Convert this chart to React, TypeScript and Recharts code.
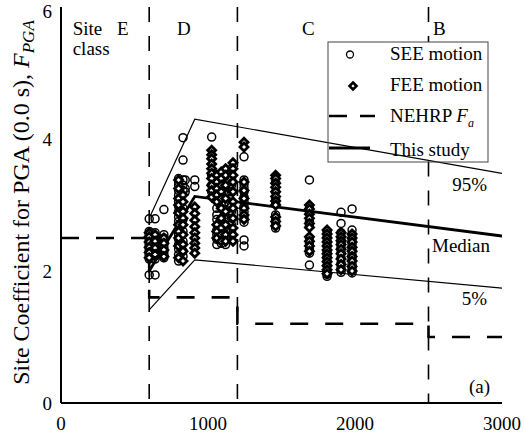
import React from "react";
import { ComposedChart, XAxis, YAxis, Line, Scatter } from "recharts";

// values (x: shear-wave velocity, y: F_PGA)
const SEE_COLUMNS: [number, number[]][] = [
  [600, [2.79, 2.6, 2.55, 2.5, 2.46, 2.42, 2.38, 2.34, 2.3, 2.26, 2.22, 2.18, 1.94]],
  [640, [2.79, 2.58, 2.53, 2.48, 2.43, 2.38, 2.33, 2.28, 2.23, 2.18, 1.94]],
  [700, [2.93, 2.55, 2.5, 2.45, 2.4, 2.35, 2.3, 2.25, 2.2]],
  [800, [3.4, 3.35, 3.3, 3.22, 3.15, 3.05, 2.98, 2.9, 2.82, 2.75, 2.55, 2.48, 2.4, 2.33, 2.25, 2.15]],
  [830, [4.02, 3.68, 3.38, 3.3, 3.22, 2.95, 2.78, 2.6, 2.45, 2.3, 2.22]],
  [845, [3.38, 3.25, 3.2]],
  [910, [3.38, 3.28]],
  [1025, [4.03, 3.45, 3.3, 3.2]],
  [1060, [3.38, 3.3, 3.2, 3.1, 2.95, 2.85, 2.78, 2.62, 2.55, 2.48, 2.4]],
  [1090, [3.42, 3.35, 3.25, 3.15, 3.0, 2.7, 2.6, 2.5, 2.42]],
  [1120, [3.48, 3.36, 3.28, 3.18, 3.05, 2.92, 2.78, 2.62, 2.5, 2.4]],
  [1160, [3.55, 3.4, 3.3, 3.2, 3.0, 2.9, 2.8, 2.7, 2.6, 2.5]],
  [1245, [3.73, 3.38, 3.32, 3.26, 3.2, 3.12, 3.05, 2.98, 2.9, 2.82, 2.74, 2.47, 2.38]],
  [1460, [3.35, 3.2, 3.1, 3.02, 2.85, 2.78, 2.7, 2.65]],
  [1690, [3.38, 2.95, 2.88, 2.75, 2.68, 2.5, 2.42, 2.33, 2.27, 2.09]],
  [1810, [2.6, 2.52, 2.45, 2.38, 2.3, 2.22, 2.15, 2.08, 2.0, 1.95, 1.92]],
  [1905, [2.89, 2.72, 2.58, 2.5, 2.43, 2.36, 2.28, 2.2, 2.12, 2.05, 1.98]],
  [1980, [2.94, 2.62, 2.55, 2.48, 2.4, 2.32, 2.25, 2.18, 2.1, 2.03, 1.97]],
];

const FEE_COLUMNS: [number, number[]][] = [
  [600, [2.58, 2.52, 2.44, 2.36, 2.28, 2.2]],
  [640, [2.55, 2.45, 2.35, 2.25]],
  [700, [2.5, 2.42, 2.32, 2.22]],
  [800, [3.38, 3.25, 3.1, 3.0, 2.88, 2.7, 2.6, 2.5, 2.38, 2.2]],
  [830, [3.15, 3.05, 2.9, 2.8, 2.7, 2.55, 2.4, 2.3, 2.15]],
  [910, [2.97, 2.87, 2.77, 2.67, 2.58, 2.5, 2.42, 2.35, 2.27]],
  [1025, [3.83, 3.76, 3.7, 3.62, 3.55, 3.48, 3.4, 3.3, 3.22, 3.12]],
  [1060, [3.45, 3.35, 3.25, 3.15, 3.05, 2.7, 2.6, 2.5]],
  [1090, [3.5, 3.4, 3.3, 3.2, 3.1, 2.95, 2.8, 2.65, 2.55, 2.45]],
  [1120, [3.55, 3.45, 3.3, 3.1, 2.9, 2.7, 2.55, 2.45]],
  [1170, [3.64, 3.55, 3.45, 3.35, 3.2, 3.05, 2.95, 2.8, 2.65, 2.55, 2.45]],
  [1245, [3.95, 3.88, 3.35, 3.22, 3.1, 2.95, 2.85, 2.78]],
  [1460, [3.45, 3.4, 3.33, 3.27, 3.2, 3.13, 3.06, 3.0, 2.82, 2.75, 2.68]],
  [1690, [3.0, 2.94, 2.86, 2.8, 2.72, 2.66, 2.52, 2.45, 2.38, 2.3]],
  [1810, [2.62, 2.56, 2.5, 2.44, 2.38, 2.32, 2.26, 2.2, 2.14, 2.08, 2.02, 1.96]],
  [1905, [2.58, 2.52, 2.46, 2.4, 2.33, 2.26, 2.18, 2.1, 2.02]],
  [1980, [2.56, 2.5, 2.44, 2.36, 2.3, 2.22, 2.15, 2.07, 2.0]],
];

const UPPER_95 = [{ x: 600, y: 2.8 }, { x: 910, y: 4.3 }, { x: 3000, y: 3.48 }];
const MEDIAN = [{ x: 600, y: 2.0 }, { x: 910, y: 3.13 }, { x: 3000, y: 2.53 }];
const LOWER_5 = [{ x: 600, y: 1.41 }, { x: 910, y: 2.17 }, { x: 3000, y: 1.74 }];

const NEHRP_FA = [
  { x: 0, y: 2.5 }, { x: 600, y: 2.5 }, { x: 600, y: 1.6 }, { x: 1200, y: 1.6 },
  { x: 1200, y: 1.2 }, { x: 2500, y: 1.2 }, { x: 2500, y: 1.0 }, { x: 3000, y: 1.0 },
];

// site class boundaries (the B boundary stops behind the legend box)
const BOUNDARIES = [
  [{ x: 600, y: 6 }, { x: 600, y: 0 }],
  [{ x: 1200, y: 6 }, { x: 1200, y: 0 }],
  [{ x: 2500, y: 6 }, { x: 2500, y: 5.47 }],
  [{ x: 2500, y: 3.66 }, { x: 2500, y: 0 }],
];

const X_LABEL_TICKS = [0, 1000, 2000, 3000];
const X_MINOR_TICKS = [0, 500, 1000, 1500, 2000, 2500, 3000];
const Y_LABEL_TICKS = [0, 2, 4, 6];
const Y_MINOR_TICKS = [0, 0.5, 1, 1.5, 2, 2.5, 3, 3.5, 4, 4.5, 5, 5.5, 6];

const SITE_CLASSES = [
  { label: "E", x: 117 },
  { label: "D", x: 177 },
  { label: "C", x: 302 },
  { label: "B", x: 433 },
];

const FONT = "Liberation Serif, Tinos, Times New Roman, DejaVu Serif, serif";

const seePoints = SEE_COLUMNS.flatMap(([x, ys]) => ys.map((y) => ({ x, y })));
const feePoints = FEE_COLUMNS.flatMap(([x, ys]) => ys.map((y) => ({ x, y })));

const OpenCircle = (props: any) => (
  <circle cx={props.cx} cy={props.cy} r={4} fill="none" stroke="#000" strokeWidth={1.5} />
);

// FEE marker: heavy-outlined diamond, leaves a small white centre
const Diamond = (props: any) => {
  const { cx, cy } = props;
  const s = 4;
  return (
    <polygon
      points={`${cx},${cy - s} ${cx + s},${cy} ${cx},${cy + s} ${cx - s},${cy}`}
      fill="#fff"
      stroke="#000"
      strokeWidth={2.8}
    />
  );
};

const tickStyle = { fontSize: 19, fill: "#000", fontFamily: FONT };

export default function App() {
  return (
    <div style={{ position: "absolute", left: 0, top: 0, width: 524, height: 438, background: "#fff", fontFamily: FONT }}>
      <ComposedChart
        width={524}
        height={438}
        margin={{ top: 7, right: 22, bottom: 5, left: 11 }}
        style={{ fontFamily: FONT }}
      >
        <XAxis
          xAxisId="b"
          type="number"
          dataKey="x"
          domain={[0, 3000]}
          allowDataOverflow
          ticks={X_LABEL_TICKS}
          tickSize={0}
          tickMargin={13.5}
          tickLine={false}
          axisLine={{ stroke: "#000", strokeWidth: 2 }}
          tick={tickStyle}
          height={30}
        />
        <XAxis
          xAxisId="bm"
          type="number"
          dataKey="x"
          domain={[0, 3000]}
          ticks={X_MINOR_TICKS}
          mirror
          tick={false}
          tickSize={5}
          tickLine={{ stroke: "#000", strokeWidth: 1.3 }}
          axisLine={false}
          height={0}
        />
        <XAxis
          xAxisId="t"
          orientation="top"
          type="number"
          dataKey="x"
          domain={[0, 3000]}
          ticks={X_MINOR_TICKS}
          mirror
          tick={false}
          tickSize={5}
          tickLine={{ stroke: "#000", strokeWidth: 1.3 }}
          axisLine={{ stroke: "#000", strokeWidth: 1.8 }}
          height={0}
        />
        <YAxis
          yAxisId="l"
          type="number"
          dataKey="y"
          domain={[0, 6]}
          allowDataOverflow
          ticks={Y_LABEL_TICKS}
          tickSize={0}
          tickMargin={9}
          tickLine={false}
          axisLine={{ stroke: "#000", strokeWidth: 2 }}
          tick={tickStyle}
          width={50}
        />
        <YAxis
          yAxisId="lm"
          type="number"
          dataKey="y"
          domain={[0, 6]}
          ticks={Y_MINOR_TICKS}
          mirror
          tick={false}
          tickSize={5}
          tickLine={{ stroke: "#000", strokeWidth: 1.3 }}
          axisLine={false}
          width={0}
        />
        <YAxis
          yAxisId="r"
          orientation="right"
          type="number"
          dataKey="y"
          domain={[0, 6]}
          ticks={Y_MINOR_TICKS}
          mirror
          tick={false}
          tickSize={5}
          tickLine={{ stroke: "#000", strokeWidth: 1.3 }}
          axisLine={{ stroke: "#000", strokeWidth: 1.8 }}
          width={0}
        />

        {BOUNDARIES.map((seg, i) => (
          <Line
            key={`bnd-${i}`}
            xAxisId="b"
            yAxisId="l"
            data={seg}
            dataKey="y"
            type="linear"
            stroke="#000"
            strokeWidth={1.6}
            strokeDasharray="15 14"
            dot={false}
            isAnimationActive={false}
          />
        ))}

        <Line
          xAxisId="b"
          yAxisId="l"
          data={NEHRP_FA}
          dataKey="y"
          type="linear"
          stroke="#000"
          strokeWidth={2.6}
          strokeDasharray="18 17"
          dot={false}
          isAnimationActive={false}
        />

        <Scatter xAxisId="b" yAxisId="l" data={seePoints} dataKey="y" shape={OpenCircle} isAnimationActive={false} />
        <Scatter xAxisId="b" yAxisId="l" data={feePoints} dataKey="y" shape={Diamond} isAnimationActive={false} />

        <Line xAxisId="b" yAxisId="l" data={UPPER_95} dataKey="y" type="linear" stroke="#000" strokeWidth={1.2} dot={false} isAnimationActive={false} />
        <Line xAxisId="b" yAxisId="l" data={LOWER_5} dataKey="y" type="linear" stroke="#000" strokeWidth={1.2} dot={false} isAnimationActive={false} />
        <Line xAxisId="b" yAxisId="l" data={MEDIAN} dataKey="y" type="linear" stroke="#000" strokeWidth={2.8} dot={false} isAnimationActive={false} />
      </ComposedChart>

      <svg
        width={524}
        height={438}
        fontFamily={FONT}
        style={{ position: "absolute", left: 0, top: 0, pointerEvents: "none" }}
      >
        <text
          x={28.5}
          y={202.5}
          transform="rotate(-90 28.5 202.5)"
          textAnchor="middle"
          fontSize={24}
          fill="#000"
          fontFamily={FONT}
        >
          Site Coefficient for PGA (0.0 s),{" "}
          <tspan fontStyle="italic">F</tspan>
          <tspan fontStyle="italic" fontSize={17} dy={5}>PGA</tspan>
        </text>

        <g fontSize={19} fill="#000" fontFamily={FONT}>
          <text x={72.7} y={35}>Site</text>
          <text x={72.7} y={55}>class</text>
          {SITE_CLASSES.map((c) => (
            <text key={c.label} x={c.x} y={35}>{c.label}</text>
          ))}
          <text x={487} y={191} textAnchor="end">95%</text>
          <text x={432} y={252}>Median</text>
          <text x={487} y={305} textAnchor="end">5%</text>
          <text x={490} y={393} textAnchor="end">(a)</text>
        </g>

        <g>
          <rect x={328} y={42} width={160} height={120} fill="none" stroke="#444" strokeWidth={1} />
          <circle cx={350} cy={54.5} r={3.5} fill="none" stroke="#000" strokeWidth={1.3} />
          <polygon points="353,82.5 356.5,86 353,89.5 349.5,86" fill="#fff" stroke="#000" strokeWidth={2.6} />
          <line x1={329} y1={116} x2={375} y2={116} stroke="#000" strokeWidth={2.6} strokeDasharray="18 13" />
          <line x1={329} y1={148} x2={370} y2={148} stroke="#000" strokeWidth={3} />
          <g fontSize={19} fill="#000" fontFamily={FONT}>
            <text x={390} y={60}>SEE motion</text>
            <text x={390} y={91}>FEE motion</text>
            <text x={390} y={122}>
              NEHRP <tspan fontStyle="italic">F</tspan>
              <tspan fontStyle="italic" fontSize={12} dy={5}>a</tspan>
            </text>
            <text x={390} y={156}>This study</text>
          </g>
        </g>
      </svg>
    </div>
  );
}
